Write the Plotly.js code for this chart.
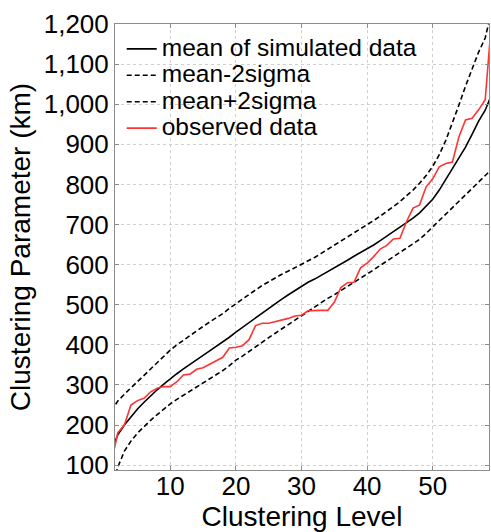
<!DOCTYPE html>
<html>
<head>
<meta charset="utf-8">
<script src="https://cdn.plot.ly/plotly-3.0.1.min.js"></script>
<style>html,body{margin:0;padding:0;background:#fff;}#chart{width:491px;height:532px;}</style>
</head>
<body>
<div id="chart"></div>
<script>
const level = [1,2,3,4,5,6,7,8,9,10,11,12,13,14,15,16,17,18,19,20,21,22,23,24,25,26,27,28,29,30,31,32,33,34,35,36,37,38,39,40,41,42,43,44,45,46,47,48,49,50,51,52,53,54,55,56,57,58,59];
const meanSim = [135,176,200,221,240,257,273,288,302,316,328,340,352,363,374,385,396,407,419,432,444,456,468,480,492,503,514,525,536,547,556,564,573,583,592,602,611,621,630,639,649,660,671,681,692,703,716,729,745,763,786,812,838,866,893,925,958,985,1025];
const meanMinus2 = [40,95,135,160,180,197,212,226,240,253,264,274,284,294,304,314,325,336,348,362,372,384,395,407,418,429,440,451,461,472,483,495,506,516,525,535,545,555,566,576,587,598,609,620,631,642,652,663,678,694,710,725,740,756,772,788,804,820,838];
const meanPlus2 = [235,260,277,293,309,325,340,356,372,387,400,412,423,435,446,457,467,478,491,503,514,526,537,548,558,567,576,584,592,600,608,618,628,638,648,658,669,679,689,700,710,721,733,745,757,772,786,803,822,845,874,910,952,998,1045,1090,1130,1165,1235];
const observed = [105,181,200,250,261,267,283,292,296,296,308,325,327,339,343,352,361,369,392,394,398,413,448,454,454,458,462,466,472,474,485,486,486,486,506,543,555,556,592,604,620,639,648,664,666,707,741,749,794,814,844,852,856,919,961,965,986,1011,1215];
const xTicks = [10,20,30,40,50];
const yTicks = [100,200,300,400,500,600,700,800,900,1000,1100,1200];
const names = ['mean of simulated data','mean-2sigma','mean+2sigma','observed data'];

const FONT = 'Liberation Sans, Arial, Helvetica, sans-serif';
const big = s => '<span style="font-size:24.5px">' + s + '</span>';
const traces = [
  {x: level, y: meanSim, name: big(names[0]), mode: 'lines', line: {color: '#000000', width: 1.6}},
  {x: level, y: meanMinus2, name: big(names[1]), mode: 'lines', line: {color: '#000000', width: 1.6, dash: '5px,3px'}},
  {x: level, y: meanPlus2, name: big(names[2]), mode: 'lines', line: {color: '#000000', width: 1.6, dash: '5px,3px'}},
  {x: level, y: observed, name: big(names[3]), mode: 'lines', line: {color: '#ff3333', width: 1.6}}
];
const axisCommon = {
  showline: true, mirror: 'ticks', linecolor: '#8c8c8c', linewidth: 1,
  ticks: 'inside', ticklen: 4, tickcolor: '#8c8c8c',
  showgrid: true, gridcolor: '#cfcfcf', griddash: 'dot', gridwidth: 1,
  zeroline: false, tickfont: {family: FONT, size: 26, color: '#000'}
};
const layout = {
  width: 491, height: 532,
  margin: {l: 115, r: 2, t: 24, b: 62},
  paper_bgcolor: '#fff', plot_bgcolor: '#fff',
  showlegend: true,
  legend: {x: 0.018, y: 0.985, xanchor: 'left', yanchor: 'top', bgcolor: 'rgba(0,0,0,0)',
           font: {family: FONT, size: 18, color: '#000'}, tracegroupgap: 0},
  xaxis: Object.assign({}, axisCommon, {range: [1.57, 58.58], tickvals: xTicks, ticktext: xTicks.map(String),
           ticklabelstandoff: -7,
           title: {text: 'Clustering Level', font: {family: FONT, size: 28, color: '#000'}, standoff: 4}}),
  yaxis: Object.assign({}, axisCommon, {range: [88, 1200], tickvals: yTicks, ticktext: yTicks.map(v => v.toLocaleString('en-US')),
           title: {text: 'Clustering Parameter (km)', font: {family: FONT, size: 28, color: '#000'}, standoff: 4}})
};
Plotly.newPlot('chart', traces, layout, {displayModeBar: false, staticPlot: true});
</script>
</body>
</html>
